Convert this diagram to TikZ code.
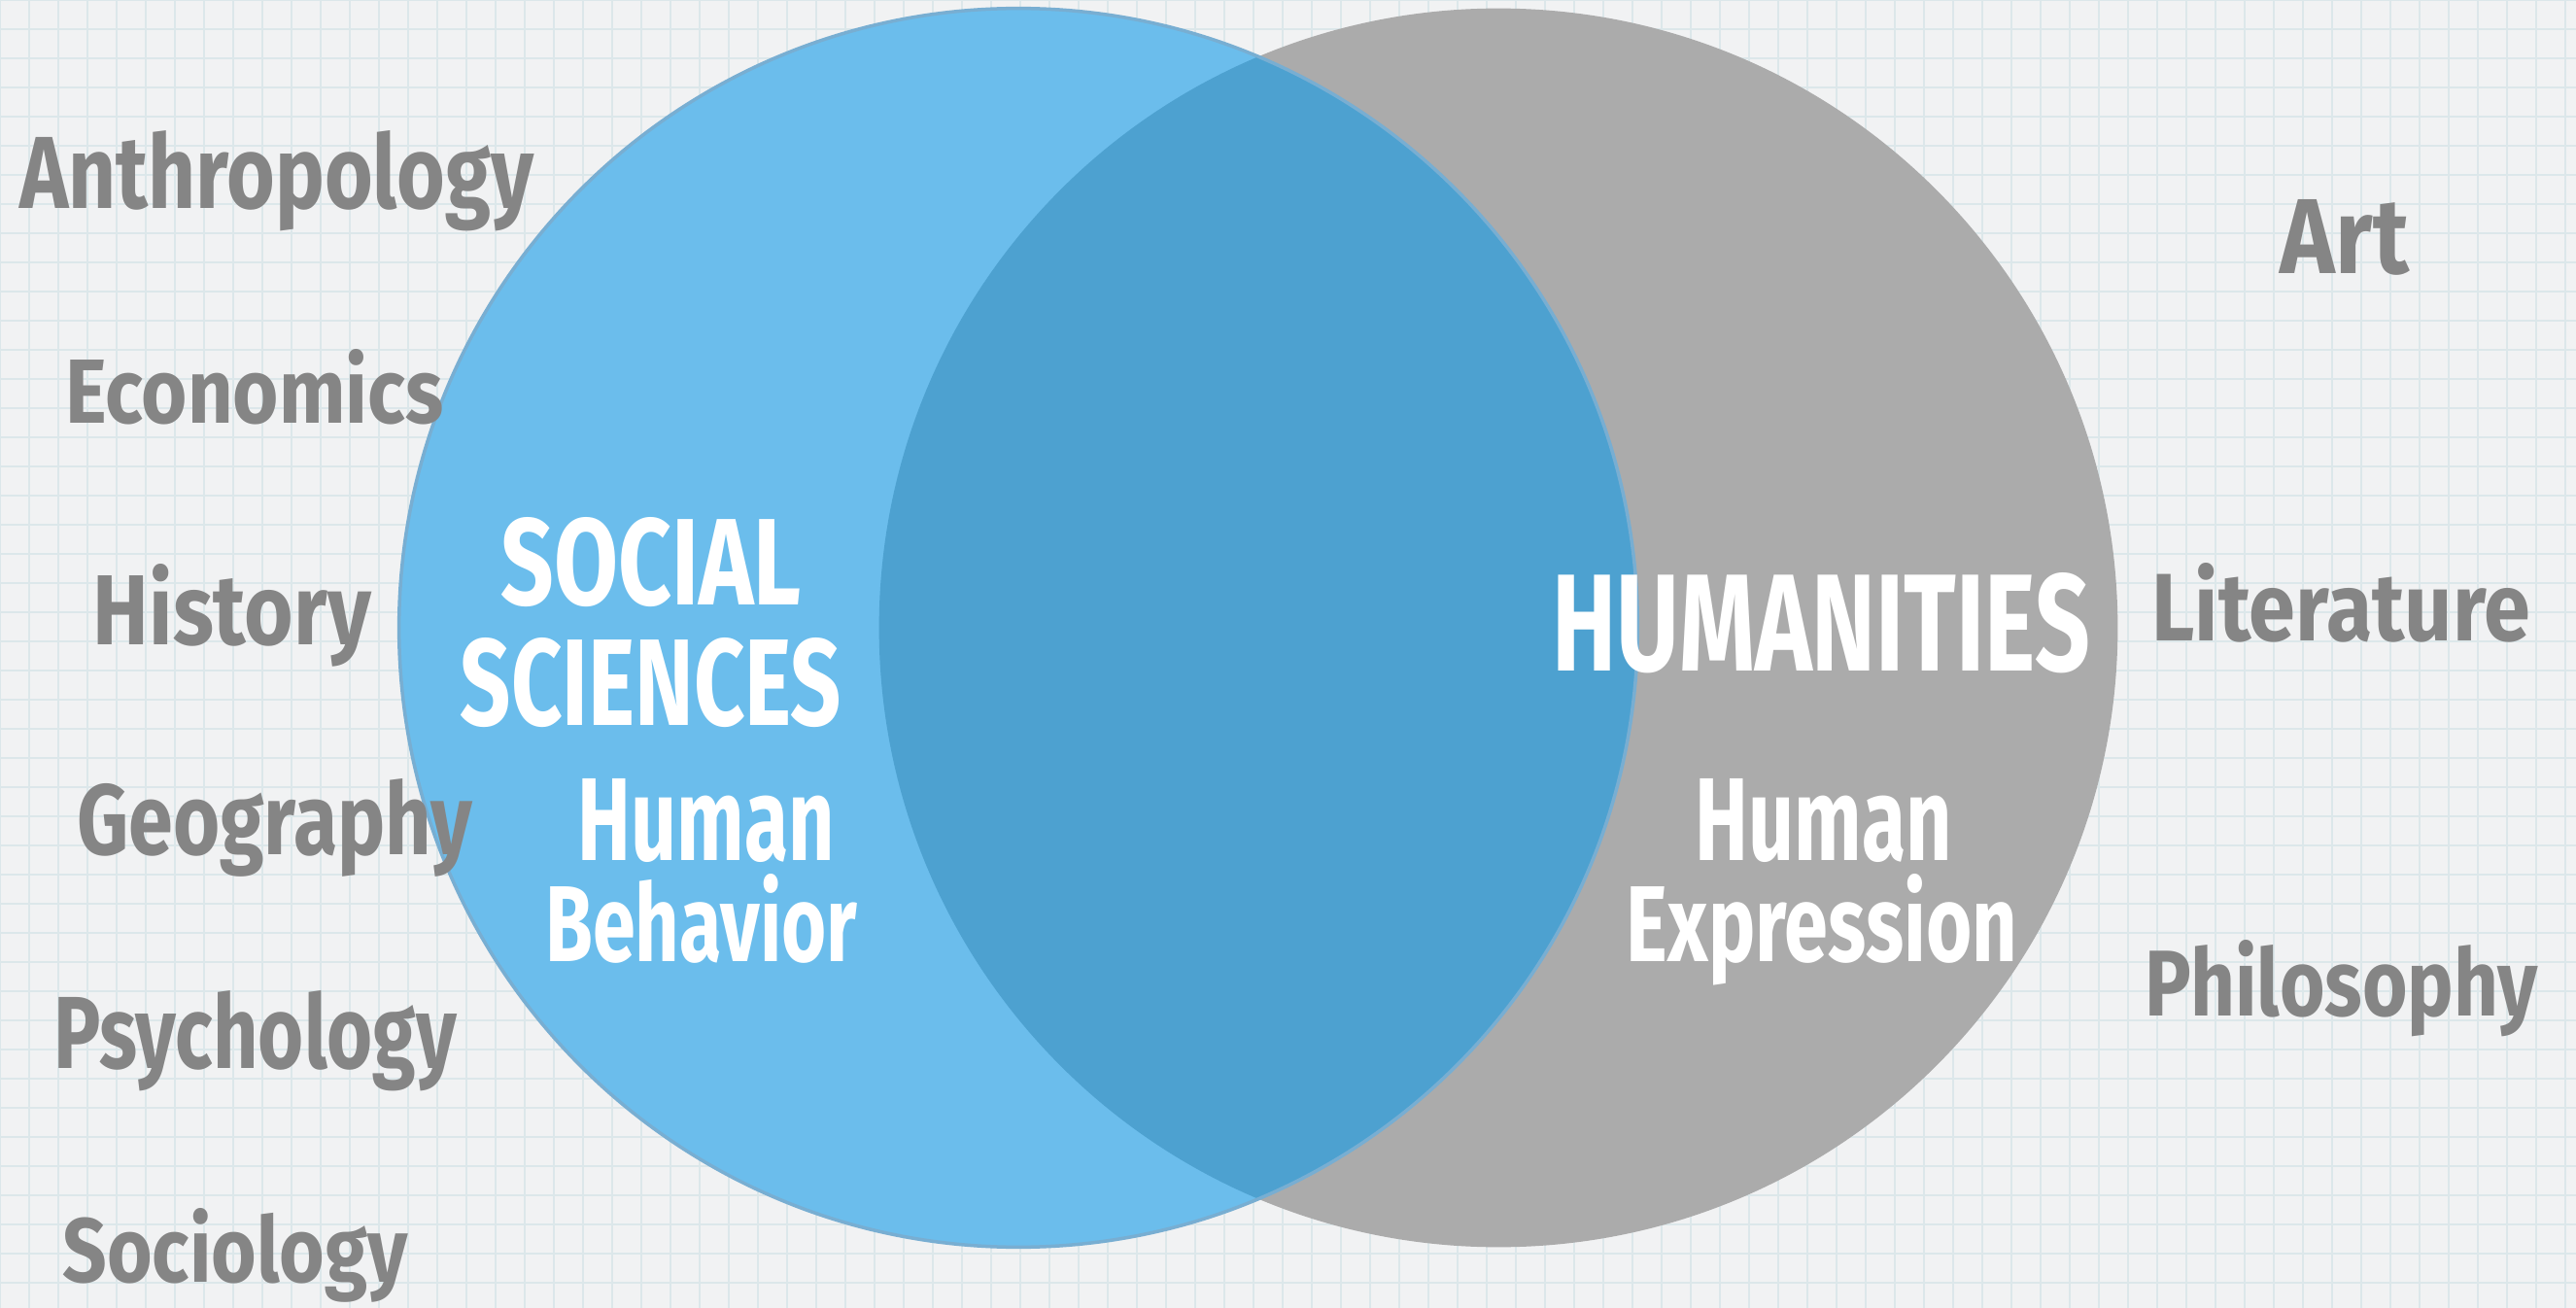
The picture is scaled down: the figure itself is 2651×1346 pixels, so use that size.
\documentclass[tikz,border=0pt]{standalone}
\usepackage{fontspec}
\setmainfont{Fira Sans}
\usepackage{graphicx}
\definecolor{bgc}{HTML}{F1F2F3}
\definecolor{gridc}{HTML}{DCE7EA}
\definecolor{bluec}{HTML}{6BBDEC}
\definecolor{interc}{HTML}{4DA1D0}
\definecolor{grayc}{HTML}{ABABAB}
\definecolor{edgec}{HTML}{78AED2}
\definecolor{labgray}{HTML}{858585}
\newcommand\fitbox[3]{\resizebox{#1cm}{#2cm}{#3}}
\tikzset{
  lab/.style={anchor=base, inner sep=0pt, text=labgray, font=\bfseries},
  wlab/.style={anchor=base, inner sep=0pt, text=white, font=\bfseries},
  gridline/.style={draw=gridc, line width=0.5pt},
}
\begin{document}
\begin{tikzpicture}[x=0.01cm, y=-0.01cm]
\useasboundingbox (0,0) rectangle (2651,1346);
\fill[bgc] (0,0) rectangle (2651,1346);
% graph paper
\foreach \gx in {0,30,...,2651} \draw[gridline] (\gx,0) -- (\gx,1346);
\foreach \gy in {0,30,...,1346} \draw[gridline] (0,\gy) -- (2651,\gy);
% circles
\coordinate (cs) at (1048,646);
\coordinate (ch) at (1542,646);
\fill[grayc] (ch) circle[radius=6.37cm];
\fill[bluec] (cs) circle[radius=6.37cm];
\begin{scope}
  \clip (cs) circle[radius=6.37cm];
  \fill[interc] (ch) circle[radius=6.37cm];
\end{scope}
\draw[edgec, line width=0.035cm] (cs) circle[radius=6.37cm];
% outside labels
\node[lab] (anth) at (285,215)  {\fitbox{5.29}{0.80}{Anthropology}};
\node[lab] (econ) at (262,436)  {\fitbox{3.89}{0.76}{Economics}};
\node[lab] (hist) at (239,663)  {\fitbox{2.86}{0.83}{History}};
\node[lab] (geog) at (283,879)  {\fitbox{4.07}{0.78}{Geography}};
\node[lab] (psyc) at (263,1099) {\fitbox{4.14}{0.80}{Psychology}};
\node[lab] (soci) at (242,1319) {\fitbox{3.55}{0.76}{Sociology}};
\node[lab] (art)  at (2413,282) {\fitbox{1.32}{0.76}{Art}};
\node[lab] (lit)  at (2409,659) {\fitbox{3.89}{0.80}{Literature}};
\node[lab] (phil) at (2410,1045){\fitbox{4.04}{0.78}{Philosophy}};
% inside labels
\node[wlab] (ss1) at (670,622)  {\fitbox{3.09}{0.90}{SOCIAL}};
\node[wlab] (ss2) at (670,746)  {\fitbox{3.92}{0.90}{SCIENCES}};
\node[wlab] (hb1) at (727,885)  {\fitbox{2.64}{0.84}{Human}};
\node[wlab] (hb2) at (722,989)  {\fitbox{3.21}{0.90}{Behavior}};
\node[wlab] (hum) at (1874,690) {\fitbox{5.53}{1.01}{HUMANITIES}};
\node[wlab] (he1) at (1877,885) {\fitbox{2.64}{0.84}{Human}};
\node[wlab] (he2) at (1875,989) {\fitbox{4.02}{0.90}{Expression}};
\end{tikzpicture}
\end{document}
